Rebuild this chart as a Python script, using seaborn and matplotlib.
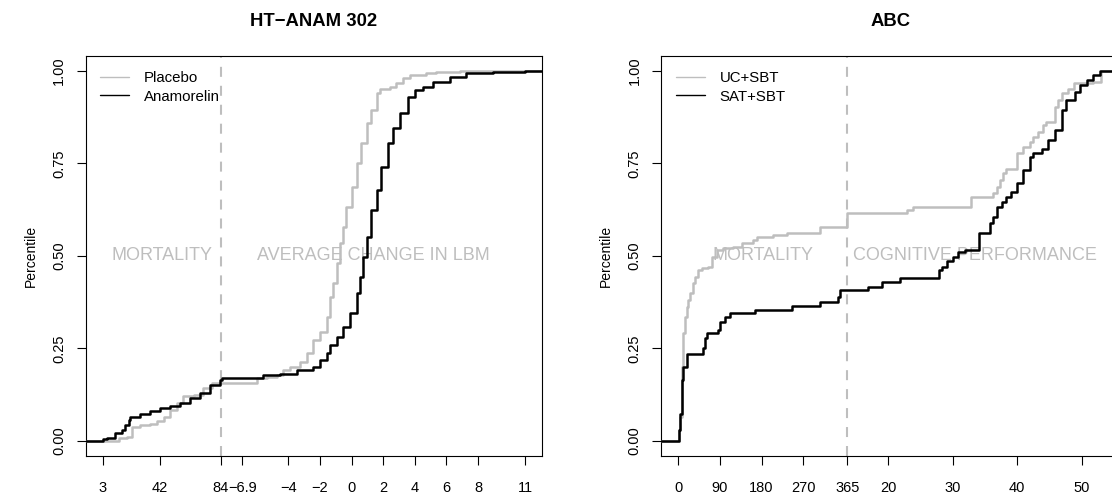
import numpy as np
import pandas as pd
import matplotlib
matplotlib.use("Agg")
import matplotlib.pyplot as plt
import seaborn as sns
from matplotlib.lines import Line2D

# ---------------- Panel 1 : HT-ANAM 302 ----------------
ht_title = "HT\u2212ANAM 302"
ht_groups = ["Placebo", "Anamorelin"]
ht_regions = ["MORTALITY", "AVERAGE CHANGE IN LBM"]
# mortality part (days, cumulative proportion)
ht_mort_days_placebo = [14, 19.7, 23.1, 28.8, 35.6, 40.2, 44.8, 49.3, 53.9, 58.4, 65.3, 72.1, 77.8]
ht_mort_pct_placebo = [0.007, 0.011, 0.038, 0.043, 0.047, 0.054, 0.065, 0.084, 0.102, 0.120, 0.124, 0.142, 0.156]
ht_mort_days_anam = [3, 6, 11.7, 16.3, 18.5, 20.8, 22, 28.8, 35.6, 42.5, 49.3, 56.2, 63, 69.8, 76.7, 83.5]
ht_mort_pct_anam = [0.004, 0.007, 0.020, 0.029, 0.043, 0.056, 0.065, 0.073, 0.081, 0.088, 0.093, 0.102, 0.115, 0.129, 0.151, 0.165]
# average change in LBM part (kg, cumulative proportion)
ht_lbm_placebo = [-8.27, -6.0, -5.37, -4.74, -4.32, -3.9, -3.27, -2.84, -2.42, -2.0, -1.58, -1.37, -1.16,
                  -0.95, -0.74, -0.53, -0.32, 0.0, 0.32, 0.63, 0.95, 1.26, 1.58, 1.79, 2.42, 2.84, 3.26,
                  3.68, 4.74, 5.37, 6.84]
ht_lbm_pct_placebo = [0.156, 0.169, 0.173, 0.177, 0.191, 0.200, 0.213, 0.237, 0.273, 0.295, 0.336, 0.390, 0.426,
                      0.480, 0.534, 0.579, 0.633, 0.687, 0.750, 0.804, 0.858, 0.894, 0.939, 0.950, 0.957, 0.966,
                      0.980, 0.989, 0.993, 0.998, 1.000]
ht_lbm_anam = [-8.2, -6.95, -5.58, -4.53, -3.47, -2.42, -2.0, -1.58, -1.37, -0.95, -0.53, -0.11, 0.32, 0.52,
               0.73, 0.95, 1.26, 1.58, 1.89, 2.31, 2.63, 3.05, 3.58, 4.0, 4.52, 5.15, 6.21, 7.26, 8.95, 11.0]
ht_lbm_pct_anam = [0.169, 0.171, 0.177, 0.182, 0.191, 0.200, 0.219, 0.237, 0.260, 0.282, 0.309, 0.345, 0.399,
                   0.444, 0.498, 0.552, 0.624, 0.678, 0.741, 0.804, 0.845, 0.885, 0.930, 0.948, 0.957, 0.971,
                   0.984, 0.993, 0.996, 1.000]
ht_xticks_days = [3, 42, 84]
ht_xticks_lbm = [-6.9, -4, -2, 0, 2, 4, 6, 8, 11]
ht_range = (3, 11)           # smallest day, largest LBM change
ht_split_day = 84
ht_lbm_start = -8.27
ht_lbm_scale = 10.83         # days per kg on the shared axis

# ---------------- Panel 2 : ABC ----------------
abc_title = "ABC"
abc_groups = ["UC+SBT", "SAT+SBT"]
abc_regions = ["MORTALITY", "COGNITIVE PERFORMANCE"]
abc_mort_days_uc = [1.5, 3.7, 7.3, 10.8, 14.5, 18, 21.6, 25.3, 32.4, 36, 43.2, 50.5, 64.8, 72.1, 82.9,
                    97.2, 118.8, 136.9, 162, 169.3, 205, 234, 306]
abc_mort_pct_uc = [0.030, 0.065, 0.200, 0.291, 0.336, 0.363, 0.381, 0.399, 0.426, 0.444, 0.462, 0.466, 0.471,
                   0.498, 0.516, 0.520, 0.525, 0.534, 0.543, 0.552, 0.556, 0.563, 0.579]
abc_mort_days_sat = [1.5, 3.7, 7.3, 10.8, 18, 54, 57.7, 61.3, 86.4, 90, 100.9, 111.7, 165.7, 244.9, 306,
                     345.6, 349.2]
abc_mort_pct_sat = [0.030, 0.074, 0.165, 0.200, 0.236, 0.250, 0.277, 0.291, 0.300, 0.322, 0.336, 0.345,
                    0.354, 0.364, 0.376, 0.390, 0.408]
abc_cog_uc = [13.7, 22.9, 23.9, 32.9, 36.3, 36.8, 37.3, 37.8, 38.3, 39.9, 40.9, 42.0, 42.5, 43.2, 44.0,
              44.5, 45.8, 46.3, 46.9, 47.9, 48.7, 51.7, 53.0]
abc_cog_pct_uc = [0.615, 0.624, 0.633, 0.660, 0.669, 0.687, 0.705, 0.723, 0.736, 0.777, 0.795, 0.808, 0.820,
                  0.835, 0.853, 0.862, 0.903, 0.921, 0.939, 0.952, 0.966, 0.971, 1.000]
abc_cog_sat = [13.7, 16.95, 19.0, 21.9, 27.9, 28.3, 29.1, 30.1, 30.9, 31.9, 34.0, 35.8, 36.3, 36.8, 37.6,
               38.3, 39.1, 39.9, 40.9, 42.0, 42.5, 43.8, 44.8, 45.8, 46.9, 47.6, 48.9, 49.7, 50.8, 51.7, 52.8]
abc_cog_pct_sat = [0.408, 0.417, 0.430, 0.439, 0.462, 0.471, 0.485, 0.498, 0.511, 0.516, 0.561, 0.588, 0.606,
                   0.633, 0.646, 0.660, 0.673, 0.696, 0.732, 0.768, 0.777, 0.790, 0.813, 0.840, 0.894, 0.921,
                   0.943, 0.961, 0.975, 0.988, 1.000]
abc_xticks_days = [0, 90, 180, 270, 365]
abc_xticks_cog = [20, 30, 40, 50]
abc_range = (0, 53.3)
abc_split_day = 365
abc_cog_start = 13.7
abc_cog_scale = 13.97

y_ticks = [0, 0.25, 0.5, 0.75, 1.0]
y_ticklabels = ["0.00", "0.25", "0.50", "0.75", "1.00"]
y_label = "Percentile"

GRAY = "#BEBEBE"
TICK_FS = 10.5

sns.set_theme(style="ticks")
plt.rcParams["font.family"] = ["Liberation Sans", "DejaVu Sans"]
plt.rcParams["axes.unicode_minus"] = True
plt.rcParams["text.color"] = "black"


def fmt(v):
    s = ("%g" % v)
    return s.replace("-", "\u2212")


def draw_panel(ax, title, groups, regions, mort, cont, split, cstart, cscale, drange, tdays, tcont):
    to_pos = lambda v: split + (np.asarray(v, dtype=float) - cstart) * cscale
    xmin = drange[0]
    xmax = float(to_pos(drange[1]))
    r = xmax - xmin
    lim = (xmin - 0.04 * r, xmax + 0.04 * r)
    colors = [GRAY, "black"]
    for g, (md, mp), (cv, cp), col in zip(groups, mort, cont, colors):
        pos = np.concatenate([[lim[0]], md, to_pos(cv), [lim[1]]])
        pct = np.concatenate([[0.0], mp, cp, [cp[-1]]])
        df = pd.DataFrame({"pos": pos, "pct": pct})
        sns.lineplot(data=df, x="pos", y="pct", ax=ax, color=col, lw=1.8,
                     drawstyle="steps-post", estimator=None, sort=False, zorder=3)
    ax.axvline(split, color=GRAY, lw=1.5, dashes=(4.8, 4.3), zorder=2)
    ax.set_xlim(*lim)
    ax.set_ylim(-0.04, 1.04)
    # region labels
    ax.text((xmin + split) / 2, 0.5, regions[0], color=GRAY, fontsize=13,
            ha="center", va="center", zorder=1)
    ax.text((split + xmax) / 2, 0.5, regions[1], color=GRAY, fontsize=13,
            ha="center", va="center", zorder=1)
    # ticks
    xt = list(tdays) + list(to_pos(tcont))
    ax.set_xticks(xt)
    ax.set_xticklabels([fmt(v) for v in tdays] + [fmt(v) for v in tcont])
    ax.set_yticks(y_ticks)
    ax.set_yticklabels(y_ticklabels, rotation=90, va="center")
    ax.tick_params(axis="both", direction="out", length=6.5, width=0.8, color="black",
                   labelsize=TICK_FS, labelcolor="black")
    ax.tick_params(axis="x", pad=12.0)
    ax.tick_params(axis="y", pad=7.6)
    for s in ax.spines.values():
        s.set_visible(True)
        s.set_color("black")
        s.set_linewidth(0.8)
    ax.set_xlabel("")
    ax.set_ylabel(y_label, fontsize=10, color="black")
    ax.set_title(title, fontsize=13.3, fontweight="bold", pad=21.5, color="black")
    handles = [Line2D([], [], color=c, lw=1.0) for c in colors]
    ax.legend(handles, groups, loc="upper left", bbox_to_anchor=(0.031, 0.963),
              frameon=False, fontsize=10.8, borderpad=0, borderaxespad=0,
              handlelength=1.95, handletextpad=0.98, labelspacing=0.33)


W, H = 1112, 500
fig = plt.figure(figsize=(W / 100, H / 100), dpi=100)
fig.patch.set_facecolor("white")
ax1 = fig.add_axes([85.7 / W, 44.3 / H, 456.6 / W, 399.7 / H])
ax2 = fig.add_axes([661.3 / W, 44.3 / H, 459.0 / W, 399.7 / H])

draw_panel(ax1, ht_title, ht_groups, ht_regions,
           [(ht_mort_days_placebo, ht_mort_pct_placebo), (ht_mort_days_anam, ht_mort_pct_anam)],
           [(ht_lbm_placebo, ht_lbm_pct_placebo), (ht_lbm_anam, ht_lbm_pct_anam)],
           ht_split_day, ht_lbm_start, ht_lbm_scale, ht_range, ht_xticks_days, ht_xticks_lbm)
draw_panel(ax2, abc_title, abc_groups, abc_regions,
           [(abc_mort_days_uc, abc_mort_pct_uc), (abc_mort_days_sat, abc_mort_pct_sat)],
           [(abc_cog_uc, abc_cog_pct_uc), (abc_cog_sat, abc_cog_pct_sat)],
           abc_split_day, abc_cog_start, abc_cog_scale, abc_range, abc_xticks_days, abc_xticks_cog)

ax1.yaxis.set_label_coords(-48.0 / 456.6, 0.5)
ax2.yaxis.set_label_coords(-48.0 / 459.0, 0.5)

fig.savefig("out.png", dpi=100, facecolor="white")
